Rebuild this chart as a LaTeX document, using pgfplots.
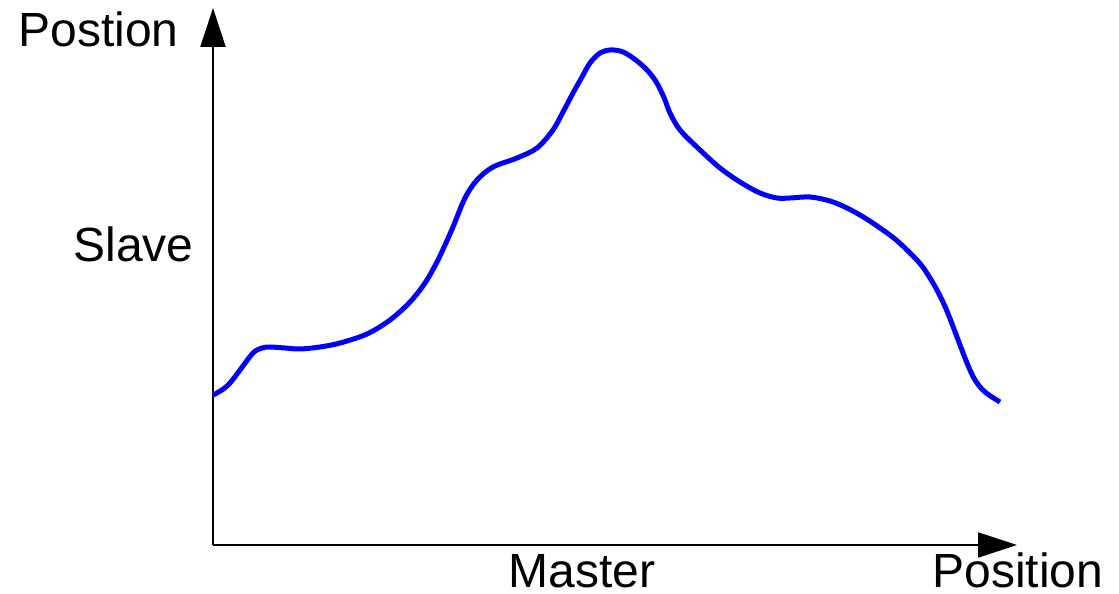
\documentclass[border=0pt]{standalone}
\usepackage{pgfplots}
\pgfplotsset{compat=1.18}
\usepackage{fontspec}
\setmainfont{Liberation Sans}
\usetikzlibrary{arrows.meta}
\begin{document}
\begin{tikzpicture}
\begin{axis}[
  x=0.5pt, y=0.5pt,
  xmin=213, xmax=1017, ymin=49, ymax=586,
  axis lines=left,
  axis line style={line width=1.1pt, -{Triangle[length=19.5pt,width=12.5pt]}},
  xtick=\empty, ytick=\empty,
  clip=false,
]
\addplot[color={rgb,255:red,0;green,0;blue,255}, line width=2.5pt, smooth, tension=0.55] coordinates {
(213,199) (222,204) (230,211) (240,224) (253,241) (262,246) (270,247) (285,246)
(300,245) (320,247) (340,251) (367,260) (390,274) (410,292) (425,311) (437,332)
(445,349) (453,367) (465,396) (477,414) (493,427) (517,436) (537,446) (553,464)
(563,482) (573,501) (582,517) (590,531) (600,541) (610,544) (620,543) (627,540)
(637,533) (647,524) (655,514) (660,505) (665,494) (670,481) (680,464) (700,444)
(720,426) (740,412) (760,401) (777,396) (790,396) (810,397) (830,393) (847,386)
(865,376) (880,366) (895,355) (910,341) (922,328) (933,311) (942,294) (949,278)
(957,257) (967,231) (975,214) (985,202) (1000,192)
};
\node[anchor=base west, inner sep=0pt, font=\fontsize{24pt}{28pt}\selectfont] at (axis cs:18,547) {Postion};
\node[anchor=base west, inner sep=0pt, font=\fontsize{24pt}{28pt}\selectfont] at (axis cs:73,332) {Slave};
\node[anchor=base west, inner sep=0pt, font=\fontsize{24pt}{28pt}\selectfont] at (axis cs:508,7) {Master};
\node[anchor=base west, inner sep=0pt, font=\fontsize{24pt}{28pt}\selectfont] at (axis cs:932,7) {Position};
\coordinate (bl) at (axis cs:0,0);
\coordinate (tr) at (axis cs:1119,594);
\end{axis}
\pgfresetboundingbox
\path[use as bounding box] (bl) rectangle (tr);
\end{tikzpicture}
\end{document}
